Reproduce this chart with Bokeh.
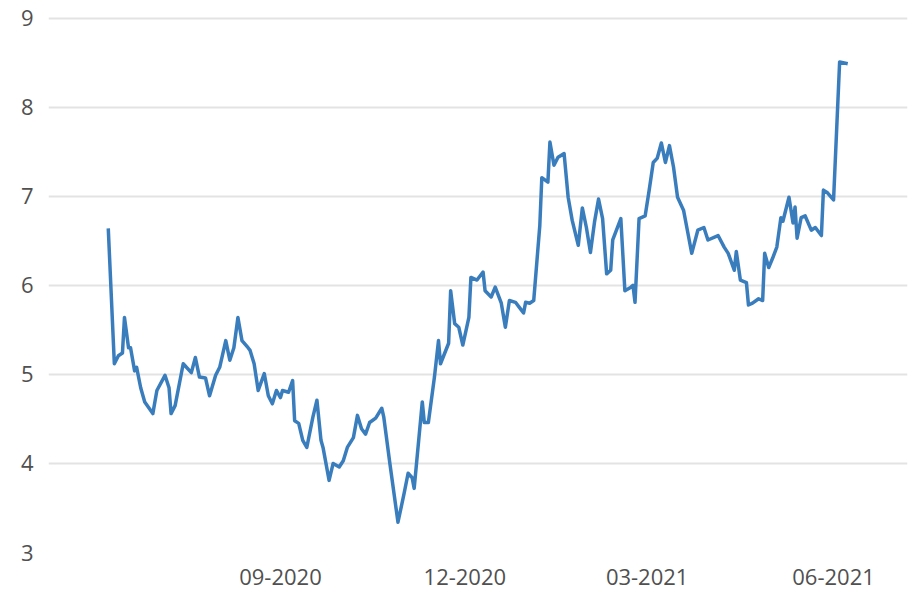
import pandas as pd
from bokeh.plotting import figure
from bokeh.models import Range1d, FixedTicker, DatetimeTickFormatter, ColumnDataSource
from bokeh.embed import file_html
from bokeh.resources import INLINE

dates = [
    "2020-06-08", "2020-06-11", "2020-06-13", "2020-06-15", "2020-06-16", "2020-06-18", "2020-06-19", "2020-06-21", "2020-06-22", "2020-06-24",
    "2020-06-26", "2020-06-30", "2020-07-02", "2020-07-06", "2020-07-08", "2020-07-09", "2020-07-11", "2020-07-15", "2020-07-19", "2020-07-21",
    "2020-07-23", "2020-07-26", "2020-07-28", "2020-07-31", "2020-08-02", "2020-08-05", "2020-08-07", "2020-08-09", "2020-08-11", "2020-08-13",
    "2020-08-16", "2020-08-17", "2020-08-19", "2020-08-21", "2020-08-24", "2020-08-26", "2020-08-28", "2020-08-30", "2020-09-01", "2020-09-02",
    "2020-09-05", "2020-09-07", "2020-09-08", "2020-09-10", "2020-09-12", "2020-09-14", "2020-09-17", "2020-09-19", "2020-09-21", "2020-09-22",
    "2020-09-25", "2020-09-27", "2020-09-30", "2020-10-02", "2020-10-04", "2020-10-07", "2020-10-09", "2020-10-11", "2020-10-13", "2020-10-15",
    "2020-10-18", "2020-10-21", "2020-10-22", "2020-10-25", "2020-10-29", "2020-11-01", "2020-11-03", "2020-11-05", "2020-11-06", "2020-11-10",
    "2020-11-11", "2020-11-13", "2020-11-16", "2020-11-18", "2020-11-19", "2020-11-23", "2020-11-24", "2020-11-26", "2020-11-28", "2020-11-30",
    "2020-12-03", "2020-12-04", "2020-12-07", "2020-12-10", "2020-12-11", "2020-12-14", "2020-12-16", "2020-12-19", "2020-12-21", "2020-12-23",
    "2020-12-26", "2020-12-28", "2020-12-30", "2020-12-31", "2021-01-02", "2021-01-04", "2021-01-06", "2021-01-07", "2021-01-08", "2021-01-11",
    "2021-01-12", "2021-01-14", "2021-01-16", "2021-01-19", "2021-01-21", "2021-01-23", "2021-01-26", "2021-01-28", "2021-01-30", "2021-02-01",
    "2021-02-03", "2021-02-05", "2021-02-07", "2021-02-09", "2021-02-11", "2021-02-12", "2021-02-16", "2021-02-18", "2021-02-21", "2021-02-22",
    "2021-02-23", "2021-02-25", "2021-02-28", "2021-03-02", "2021-03-04", "2021-03-06", "2021-03-08", "2021-03-10", "2021-03-12", "2021-03-14",
    "2021-03-16", "2021-03-19", "2021-03-21", "2021-03-23", "2021-03-26", "2021-03-29", "2021-03-31", "2021-04-05", "2021-04-08", "2021-04-10",
    "2021-04-13", "2021-04-14", "2021-04-16", "2021-04-19", "2021-04-20", "2021-04-22", "2021-04-25", "2021-04-27", "2021-04-28", "2021-04-30",
    "2021-05-02", "2021-05-04", "2021-05-06", "2021-05-07", "2021-05-10", "2021-05-12", "2021-05-13", "2021-05-14", "2021-05-16", "2021-05-18",
    "2021-05-21", "2021-05-23", "2021-05-26", "2021-05-27", "2021-05-29", "2021-06-01", "2021-06-04", "2021-06-08",
]

values = [
    6.64, 5.12, 5.21, 5.24, 5.64, 5.30, 5.30, 5.04, 5.08, 4.85,
    4.69, 4.56, 4.82, 4.99, 4.85, 4.56, 4.65, 5.12, 5.02, 5.19,
    4.97, 4.96, 4.76, 4.99, 5.08, 5.38, 5.16, 5.30, 5.64, 5.38,
    5.30, 5.27, 5.12, 4.82, 5.01, 4.76, 4.67, 4.82, 4.74, 4.82,
    4.80, 4.93, 4.48, 4.45, 4.26, 4.18, 4.52, 4.71, 4.26, 4.18,
    3.81, 4.00, 3.96, 4.03, 4.18, 4.29, 4.54, 4.39, 4.33, 4.46,
    4.51, 4.62, 4.52, 4.00, 3.34, 3.66, 3.89, 3.84, 3.72, 4.69,
    4.46, 4.46, 4.97, 5.38, 5.12, 5.35, 5.94, 5.57, 5.53, 5.33,
    5.64, 6.09, 6.06, 6.15, 5.94, 5.87, 5.98, 5.80, 5.53, 5.83,
    5.81, 5.75, 5.69, 5.81, 5.80, 5.83, 6.39, 6.67, 7.21, 7.16,
    7.61, 7.35, 7.44, 7.48, 6.99, 6.73, 6.45, 6.87, 6.65, 6.37,
    6.71, 6.97, 6.75, 6.13, 6.17, 6.51, 6.75, 5.94, 5.98, 6.00,
    5.81, 6.75, 6.78, 7.07, 7.38, 7.43, 7.60, 7.38, 7.57, 7.33,
    6.99, 6.84, 6.60, 6.36, 6.62, 6.65, 6.51, 6.56, 6.43, 6.36,
    6.17, 6.38, 6.06, 6.03, 5.78, 5.80, 5.85, 5.83, 6.36, 6.20,
    6.31, 6.43, 6.76, 6.72, 6.99, 6.70, 6.88, 6.53, 6.76, 6.78,
    6.62, 6.65, 6.56, 7.07, 7.04, 6.96, 8.51, 8.49,
]

x_tick_dates = ["2020-09-01", "2020-12-01", "2021-03-01", "2021-06-01"]
y_ticks = [3, 4, 5, 6, 7, 8, 9]
x_start, x_end = "2020-05-09 12:00", "2021-07-07 12:00"

src = ColumnDataSource(dict(date=pd.to_datetime(dates), value=values))

p = figure(
    width=908, height=596, x_axis_type="datetime",
    output_backend="svg", toolbar_location=None,
    x_range=Range1d(pd.Timestamp(x_start), pd.Timestamp(x_end)),
    y_range=Range1d(3, 9.02),
    min_border_left=48, min_border_right=1, min_border_top=16, min_border_bottom=44,
)
p.outline_line_color = None
p.background_fill_color = "white"
p.border_fill_color = "white"

p.line("date", "value", source=src, line_color="#3a7dbd", line_width=3.5, line_join="round")

font = "Open Sans"
label_color = "#505050"

xa = p.xaxis[0]
xa.ticker = FixedTicker(ticks=[pd.Timestamp(d).value / 1e6 for d in x_tick_dates])
fmt = "%m-%Y"
xa.formatter = DatetimeTickFormatter(
    milliseconds=fmt, seconds=fmt, minsec=fmt, minutes=fmt, hourmin=fmt,
    hours=fmt, days=fmt, months=fmt, years=fmt,
)
xa.axis_line_color = None
xa.major_tick_line_color = None
xa.minor_tick_line_color = None
xa.major_tick_out = 0
xa.major_label_standoff = 16
xa.major_label_text_font = font
xa.major_label_text_font_size = "22px"
xa.major_label_text_color = label_color

ya = p.yaxis[0]
ya.ticker = FixedTicker(ticks=y_ticks)
ya.axis_line_color = None
ya.major_tick_line_color = None
ya.minor_tick_line_color = None
ya.major_tick_out = 0
ya.major_label_standoff = 15
ya.major_label_text_font = font
ya.major_label_text_font_size = "22px"
ya.major_label_text_color = label_color

p.xgrid.grid_line_color = None
p.ygrid.grid_line_color = "#e3e3e3"
p.ygrid.grid_line_width = 2

open("out.html", "w").write(file_html(p, INLINE))
